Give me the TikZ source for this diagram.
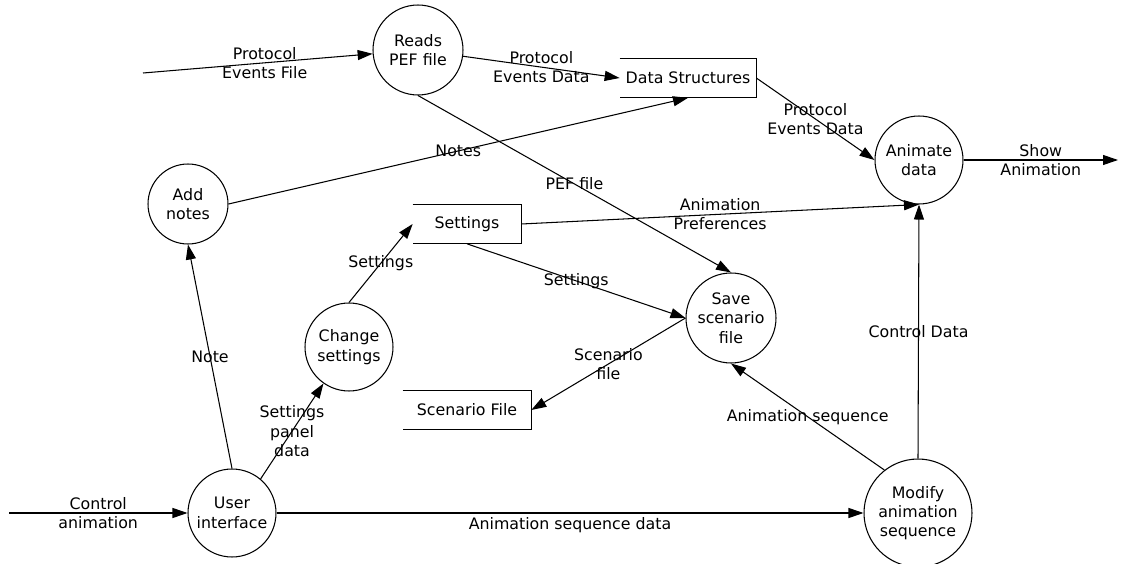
\documentclass[tikz,border=0pt]{standalone}
\usepackage{fontspec}
\setmainfont{DejaVu Sans}
\usetikzlibrary{arrows.meta}

\tikzset{
  proc/.style={circle, draw, line width=0.6pt, inner sep=0pt, align=center, minimum size=#1},
  store/.style={inner sep=0pt, minimum width=#1, minimum height=0.78cm},
  flow/.style={line width=0.6pt, -{Triangle[length=0.3cm, width=0.2cm]}},
  lbl/.style={align=center, inner sep=1pt},
}

\begin{document}
\begin{tikzpicture}[x=0.02cm, y=-0.02cm]

\fontsize{9}{11}\selectfont
\path [use as bounding box] (0,0) rectangle (1123,564);

% PROCESSES
\node [proc=1.8cm] (pef) at (418,50) {Reads\\PEF file};
\node [proc=1.76cm] (anim) at (919,160) {Animate\\data};
\node [proc=1.6cm] (notes) at (188,204) {Add\\notes};
\node [proc=1.76cm] (chg) at (349,347) {Change\\settings};
\node [proc=1.8cm] (save) at (731,318) {Save\\scenario\\file};
\node [proc=1.76cm] (ui) at (232,513) {User\\interface};
\node [proc=2.16cm] (mod) at (918,513) {Modify\\animation\\sequence};

% STORES
\node [store=2.72cm] (ds) at (688,78) {Data Structures};
\node [store=2.16cm] (set) at (467,224) {Settings};
\node [store=2.56cm] (scn) at (467,410) {Scenario File};
\foreach \s in {ds,set,scn}
	\draw [line width=0.6pt] (\s.north west) -- (\s.north east) -- (\s.south east) -- (\s.south west);

% OUTSIDE ENDS
\coordinate (pefin) at (143,73);
\coordinate (ctlin) at (9,513);
\coordinate (showout) at (1118,160);

% FLOWS
\draw [flow] (pefin) -- node[lbl, pos=0.53] {Protocol\\Events File} (pef);
\draw [flow] (pef) -- node[lbl] {Protocol\\Events Data} (ds.west);
\draw [flow] (pef.south) -- node[lbl] {PEF file} (save.north);
\draw [flow] (notes.east) -- node[lbl] {Notes} (ds.south);
\draw [flow] (ds.east) -- node[lbl] {Protocol\\Events Data} (anim.west);
\draw [flow] (set.east) -- node[lbl] {Animation\\Preferences} (anim.south);
\draw [flow] (set.south) -- node[lbl] {Settings} (save.west);
\draw [flow] (save.west) -- node[lbl] {Scenario\\file} (scn.east);
\draw [flow] (chg.north) -- node[lbl] {Settings} (set.west);
\draw [flow] (ui.50) -- node[lbl] {Settings\\panel\\data} (chg.235);
\draw [flow] (ui.north) -- node[lbl] {Note} (notes.south);
\draw [flow] (ctlin) -- node[lbl] {Control\\animation} (ui.west);
\draw [flow] (ui.east) -- node[lbl, below, inner sep=2pt] {Animation sequence data} (mod.west);
\draw [flow] (mod.128) -- node[lbl] {Animation sequence} (save.south);
\draw [flow] (mod.north) -- node[lbl] {Control Data} (anim.south);
\draw [flow] (anim.east) -- node[lbl] {Show\\Animation} (showout);

\end{tikzpicture}
\end{document}
